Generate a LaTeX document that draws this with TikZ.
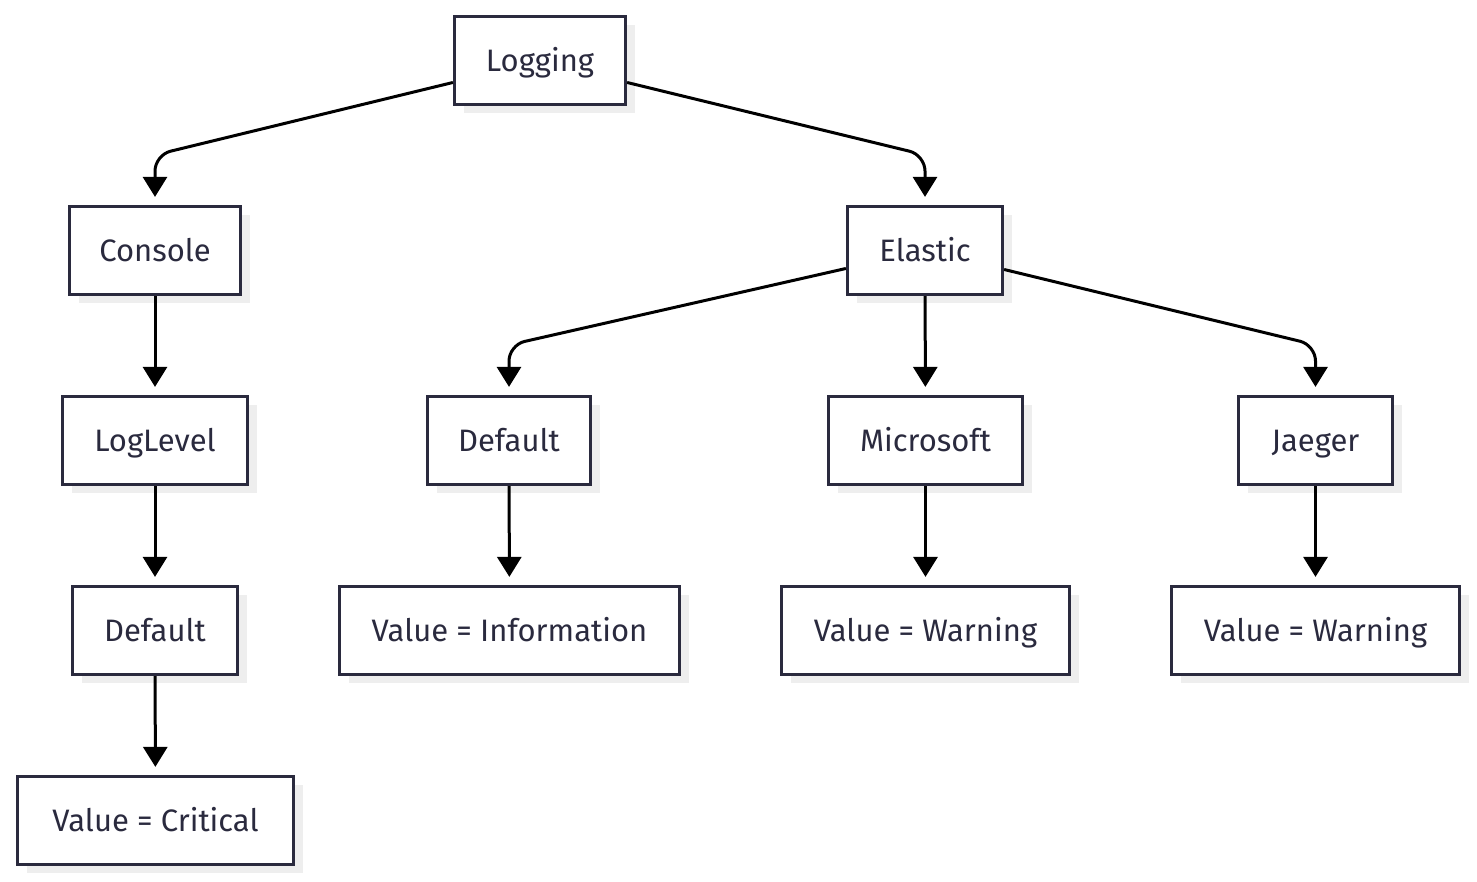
\documentclass[tikz,border=0pt]{standalone}
\usepackage{fontspec}
\setmainfont{Fira Sans}
\usetikzlibrary{arrows.meta,shadows}
\definecolor{boxline}{HTML}{2A2A3E}
\definecolor{shade}{HTML}{EEEEEE}
\tikzset{
  box/.style={draw=boxline, line width=3.2pt, fill=white, text=boxline, minimum height=88pt, inner sep=0pt,
    font=\fontsize{31}{36}\selectfont, text height=28pt, text depth=5pt,
    drop shadow={shadow xshift=9pt, shadow yshift=-9pt, fill=shade, opacity=1}},
  edge/.style={-{Triangle[width=24pt,length=20pt]}, line width=3pt, rounded corners=16pt, shorten >=8pt}
}
\begin{document}
\begin{tikzpicture}[x=1pt,y=1pt]
\useasboundingbox (0,0) rectangle (1477,882);
\node[box, minimum width=171pt] (logging) at (540,821.5) {Logging};
\node[box, minimum width=171pt] (console) at (155,631.5) {Console};
\node[box, minimum width=155pt] (elastic) at (925,631.5) {Elastic};
\node[box, minimum width=185pt] (loglevel) at (155,441.5) {LogLevel};
\node[box, minimum width=163pt] (default2) at (509,441.5) {Default};
\node[box, minimum width=194pt] (microsoft) at (925.5,441.5) {Microsoft};
\node[box, minimum width=154pt] (jaeger) at (1315.5,441.5) {Jaeger};
\node[box, minimum width=165pt] (default1) at (155,251.5) {Default};
\node[box, minimum width=340pt] (information) at (509.5,251.5) {Value = Information};
\node[box, minimum width=288pt] (warning1) at (925.5,251.5) {Value = Warning};
\node[box, minimum width=288pt] (warning2) at (1315.5,251.5) {Value = Warning};
\node[box, minimum width=276pt] (critical) at (155.5,61.5) {Value = Critical};
\draw[edge] ([yshift=-22pt]logging.west) -- ([yshift=-94.5pt]logging.west -| console.north) -- (console.north);
\draw[edge] ([yshift=-22pt]logging.east) -- ([yshift=-94.5pt]logging.east -| elastic.north) -- (elastic.north);
\draw[edge] (console) -- (loglevel);
\draw[edge] (loglevel) -- (default1);
\draw[edge] (default1) -- (critical);
\draw[edge] ([yshift=-18pt]elastic.west) -- ([yshift=-94.5pt]elastic.west -| default2.north) -- (default2.north);
\draw[edge] (elastic) -- (microsoft);
\draw[edge] ([yshift=-19pt]elastic.east) -- ([yshift=-94.5pt]elastic.east -| jaeger.north) -- (jaeger.north);
\draw[edge] (default2) -- (information);
\draw[edge] (microsoft) -- (warning1);
\draw[edge] (jaeger) -- (warning2);
\end{tikzpicture}
\end{document}
